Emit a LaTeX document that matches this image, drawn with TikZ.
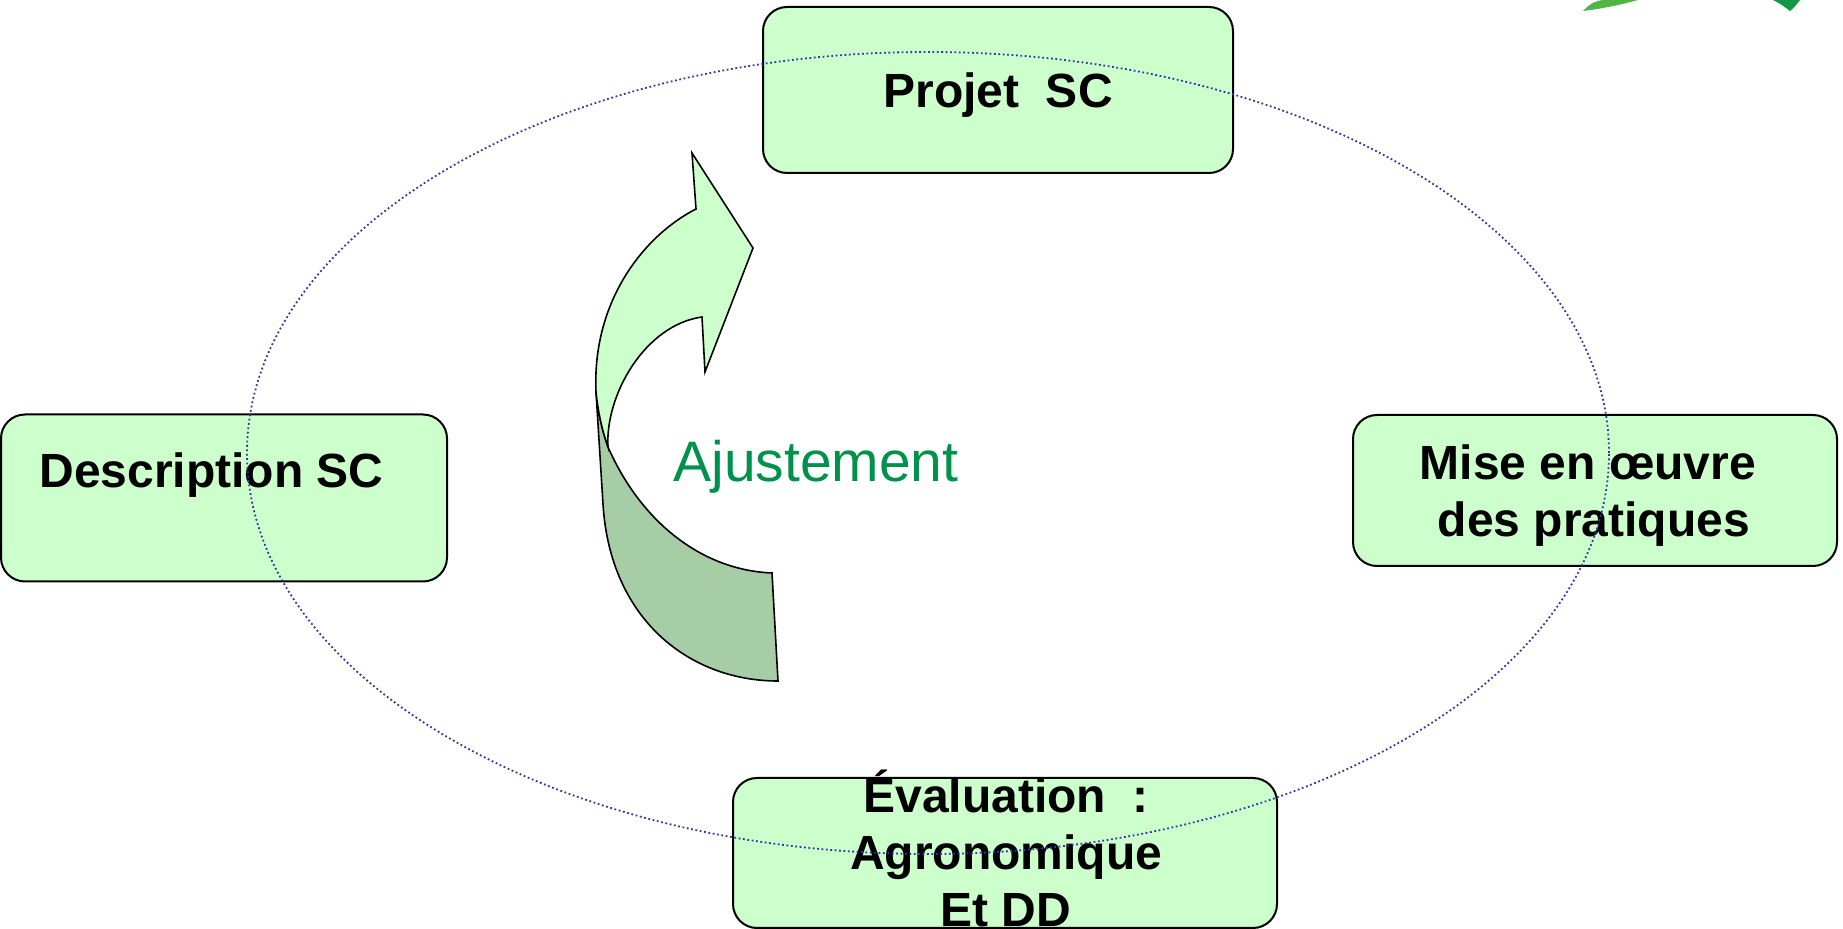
\documentclass[tikz,border=0pt]{standalone}
\usepackage{fontspec}
\setmainfont{Liberation Sans}
\definecolor{boxgreen}{HTML}{CCFFCC}
\definecolor{arrowdark}{HTML}{A6CDA6}
\definecolor{ajustgreen}{HTML}{00924A}
\definecolor{ellblue}{HTML}{3535A8}
\definecolor{leafA}{HTML}{50B446}
\definecolor{leafB}{HTML}{149646}
\begin{document}
\begin{tikzpicture}[x=0.5pt,y=-0.5pt,
  box/.style={draw=black, line width=1pt, fill=boxgreen, rounded corners=12pt, inner sep=0pt},
  lbl/.style={font=\fontsize{24}{28.5}\selectfont\bfseries, inner sep=0pt, anchor=base},
  arrowpart/.style={draw=black, line width=0.8pt, line join=miter},
  orbit/.style={draw=ellblue, line width=0.9pt, dash pattern=on 0.9pt off 1.3pt}]
\useasboundingbox (0,0) rectangle (1843,929);
% logo fragments
\fill[leafA] (1583,11) .. controls (1588,5) and (1595,1) .. (1603,0) -- (1638,0) .. controls (1620,5) and (1600,9) .. (1583,11) -- cycle;
\fill[leafB] (1773,0) -- (1800,0) .. controls (1797,4) and (1794,8) .. (1790,11) .. controls (1785,7) and (1779,3) .. (1773,0) -- cycle;
% boxes
\node[box, minimum width=235pt, minimum height=83pt] (proj) at (998,90) {};
\node[box, minimum width=223pt, minimum height=83.5pt] (desc) at (224,498) {};
\node[box, minimum width=242pt, minimum height=75.5pt] (mise) at (1595,490.5) {};
\node[box, minimum width=272pt, minimum height=75pt] (eval) at (1005,853) {};
% curved arrow
\draw[arrowpart, fill=arrowdark] (596,392) -- (603,504) .. controls (610,620) and (690,681) .. (778,681) -- (772,573) .. controls (700,570) and (640,520) .. (608,447) .. controls (602,430) and (598,412) .. (596,392) -- cycle;
\draw[arrowpart, fill=boxgreen] (596,392) .. controls (592,300) and (645,235) .. (696,209) -- (692,153) -- (753,248) -- (705,372) -- (702,317) .. controls (645,325) and (605,395) .. (608,447) .. controls (602,430) and (598,412) .. (596,392) -- cycle;
% texts
\node[lbl] (projtxt) at (998,108) {Projet\ \ SC};
\node[lbl, anchor=base west] (desctxt) at (39,488) {Description SC};
\node[lbl] (mise1) at (1588,480) {Mise en œuvre};
\node[lbl] (mise2) at (1594,537) {des pratiques};
\node[lbl] (eval1) at (1006,813) {Évaluation\ \ :};
\node[lbl] (eval2) at (1006,870) {Agronomique};
\node[lbl] (eval3) at (1006,927) {Et DD};
\node[font=\fontsize{28.5}{34}\selectfont, text=ajustgreen, inner sep=0pt, anchor=base west] (ajust) at (673,482) {Ajustement};
% dotted ellipse
\draw[orbit] (928,453) ellipse [x radius=340.5pt, y radius=200.5pt];
\end{tikzpicture}
\end{document}
